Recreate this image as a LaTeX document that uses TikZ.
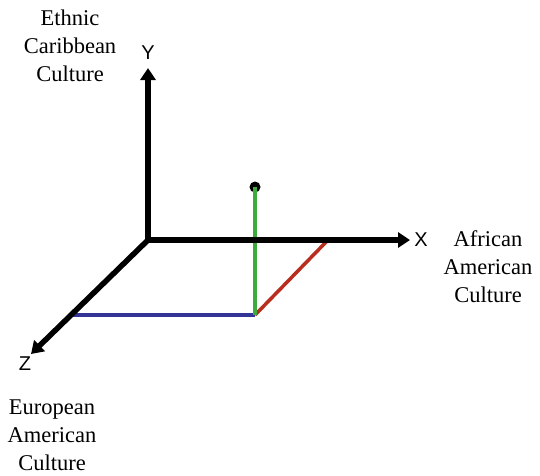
\documentclass[tikz,border=0pt]{standalone}
\usepackage{fontspec}
\setmainfont{Liberation Serif}
\newfontfamily\axisfont{Liberation Sans}
\usetikzlibrary{arrows.meta}
\definecolor{zblue}{RGB}{52,52,150}
\definecolor{ygreen}{RGB}{60,170,60}
\definecolor{xred}{RGB}{185,45,30}
\begin{document}
\begin{tikzpicture}[x=1pt,y=-1pt,
  axis/.style={line width=5.5pt,-{Triangle[length=12pt,width=15pt]}},
  proj/.style={line width=3.5pt},
  axislabel/.style={font=\axisfont\fontsize{20}{20}\selectfont,inner sep=0pt},
  culture/.style={font=\fontsize{22.5}{28}\selectfont,align=center,inner sep=0pt}]
  \useasboundingbox (0,0) rectangle (540,475);
  % origin and axis ends
  \coordinate (O) at (148,240);
  \coordinate (Xe) at (410,240);
  \coordinate (Ye) at (148,68);
  \coordinate (Ze) at (31,354);
  % projections of the point
  \coordinate (F) at (255,315);
  \coordinate (Xp) at (328,240);
  \coordinate (Zp) at (72,315);
  \node[circle,fill=black,inner sep=0pt,minimum size=11pt] (P) at (255,187) {};
  \draw[proj,zblue] (Zp) -- (F);
  \draw[proj,xred] (F) -- (Xp);
  \draw[proj,ygreen] (F) -- (P.center);
  % axes
  \draw[axis] (O) -- (Xe);
  \draw[axis] (O) -- (Ye);
  \draw[axis] (O) -- (Ze);
  % axis labels
  \node[axislabel] (xl) at (421,240) {X};
  \node[axislabel] (yl) at (148,53) {Y};
  \node[axislabel] (zl) at (25,364) {Z};
  % culture labels
  \node[culture] (cc) at (70,46) {Ethnic\\Caribbean\\Culture};
  \node[culture] (ac) at (488,267) {African\\American\\Culture};
  \node[culture] (ec) at (52,435) {European\\American\\Culture};
\end{tikzpicture}
\end{document}
